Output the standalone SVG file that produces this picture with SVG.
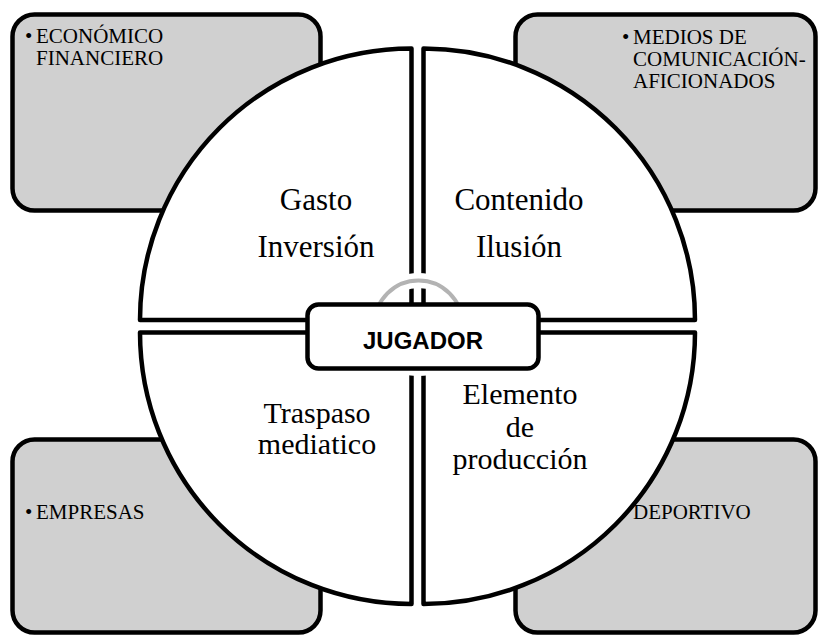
<svg xmlns="http://www.w3.org/2000/svg" width="818" height="636" viewBox="0 0 818 636">
<style>
.box{fill:#d0d0d0;stroke:#000;stroke-width:4.5;}
.quad{fill:#fff;stroke:#000;stroke-width:4.5;stroke-linejoin:round;}
.lbl{font-family:"Liberation Serif","Times New Roman",serif;font-size:21px;fill:#000;}
.qt{font-family:"Liberation Serif","Times New Roman",serif;font-size:31px;fill:#000;text-anchor:middle;}
.qs{font-size:30px;}
.ctr{font-family:"Liberation Sans",Arial,sans-serif;font-size:24px;font-weight:bold;fill:#000;text-anchor:middle;}
</style>
<rect width="818" height="636" fill="#fff"/>
<g id="box-economico">
<rect class="box" x="12.5" y="14.5" width="308" height="196" rx="22"/>
<text class="lbl" x="25" y="43">•</text>
<text class="lbl" x="36" y="43">ECONÓMICO</text>
<text class="lbl" x="36" y="65">FINANCIERO</text>
</g>
<g id="box-medios">
<rect class="box" x="515.5" y="14.5" width="300" height="196" rx="22"/>
<text class="lbl" x="622" y="44">•</text>
<text class="lbl" x="633" y="44">MEDIOS DE</text>
<text class="lbl" x="633" y="66">COMUNICACIÓN-</text>
<text class="lbl" x="633" y="88">AFICIONADOS</text>
</g>
<g id="box-empresas">
<rect class="box" x="12.5" y="439.5" width="308" height="193" rx="22"/>
<text class="lbl" x="25" y="519">•</text>
<text class="lbl" x="36" y="519">EMPRESAS</text>
</g>
<g id="box-deportivo">
<rect class="box" x="515.5" y="439.5" width="300" height="193" rx="22"/>
<text class="lbl" x="633" y="519">DEPORTIVO</text>
</g>
<g id="quad-gasto">
<path class="quad" d="M411.5,320 L411.5,48.5 A271.5,271.5 0 0 0 140,320 Z"/>
<text class="qt" x="316" y="210">Gasto</text>
<text class="qt" x="316" y="257">Inversión</text>
</g>
<g id="quad-contenido">
<path class="quad" d="M423.5,320 L423.5,48.5 A271.5,271.5 0 0 1 695,320 Z"/>
<text class="qt" x="519" y="210">Contenido</text>
<text class="qt" x="519" y="257">Ilusión</text>
</g>
<g id="quad-traspaso">
<path class="quad" d="M411.5,332.5 L140,332.5 A271.5,271.5 0 0 0 411.5,604 Z"/>
<text class="qt qs" x="317" y="422.5">Traspaso</text>
<text class="qt qs" x="317" y="454">mediatico</text>
</g>
<g id="quad-elemento">
<path class="quad" d="M423.5,332.5 L695,332.5 A271.5,271.5 0 0 1 423.5,604 Z"/>
<text class="qt qs" x="520" y="404">Elemento</text>
<text class="qt qs" x="520" y="437">de</text>
<text class="qt qs" x="520" y="468.5">producción</text>
</g>
<g id="ring">
<circle cx="418.5" cy="324.5" r="44" fill="none" stroke="#fff" stroke-width="15"/>
<circle cx="418.5" cy="324.5" r="44" fill="none" stroke="#b3b3b3" stroke-width="4"/>
</g>
<g id="jugador">
<rect x="307.5" y="304.5" width="231" height="64" rx="11" fill="#fff" stroke="#000" stroke-width="4.5"/>
<text class="ctr" x="423" y="349">JUGADOR</text>
</g>
</svg>
